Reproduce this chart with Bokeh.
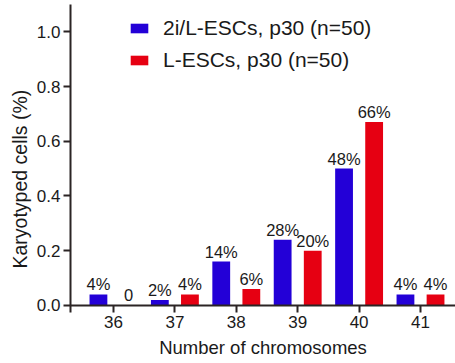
from bokeh.plotting import figure
from bokeh.models import ColumnDataSource, FixedTicker, PrintfTickFormatter, Span, Range1d, Title
from bokeh.embed import file_html
from bokeh.resources import INLINE
from bokeh.core.properties import value

# ---- data ----
chromosomes = [36, 37, 38, 39, 40, 41]
two_i_vals = [0.04, 0.02, 0.16, 0.24, 0.50, 0.04]
l_esc_vals = [0.00, 0.04, 0.06, 0.20, 0.67, 0.04]
two_i_labels = ["4%", "2%", "14%", "28%", "48%", "4%"]
l_esc_labels = ["0", "4%", "6%", "20%", "66%", "4%"]
series_names = ["2i/L-ESCs, p30 (n=50)", "L-ESCs, p30 (n=50)"]
y_ticks = [0.0, 0.2, 0.4, 0.6, 0.8, 1.0]
x_title = "Number of chromosomes"
y_title = "Karyotyped cells (%)"

BLUE = "#2300d7"
RED = "#e60012"
AX = "#2b2424"
FONT = "Liberation Sans"
OFF = 0.245
BW = 0.29

src_b = ColumnDataSource(dict(x=[c - OFF for c in chromosomes], top=two_i_vals, lab=two_i_labels))
src_r = ColumnDataSource(dict(x=[c + OFF for c in chromosomes], top=l_esc_vals, lab=l_esc_labels))

p = figure(width=455, height=363, output_backend="svg", toolbar_location=None,
           x_range=Range1d(35.30, 41.57), y_range=Range1d(-0.026, 1.1),
           min_border_left=70, min_border_right=0, min_border_top=4, min_border_bottom=51)
p.outline_line_color = None
p.xgrid.visible = False
p.ygrid.visible = False
p.background_fill_color = "white"

p.vbar(x="x", top="top", width=BW, source=src_b, color=BLUE, line_color=None, legend_label=series_names[0])
p.vbar(x="x", top="top", width=BW, source=src_r, color=RED, line_color=None, legend_label=series_names[1])

for s in (src_b, src_r):
    p.text(x="x", y="top", text="lab", source=s, text_align="center", text_baseline="alphabetic",
           y_offset=-10, text_font=value(FONT), text_font_size="16.5px", text_color="#1a1a1a")

# x axis line at y=0
p.add_layout(Span(location=0, dimension="width", line_color=AX, line_width=2))

xa = p.xaxis[0]
xa.ticker = FixedTicker(ticks=chromosomes)
xa.axis_line_color = None
xa.major_tick_in = 7
xa.major_tick_out = 0
xa.major_tick_line_color = AX
xa.major_tick_line_width = 2
xa.minor_tick_line_color = None
xa.major_label_standoff = 3
xa.major_label_text_font = FONT
xa.major_label_text_font_size = "17px"
xa.major_label_text_color = "#1a1a1a"
xa.axis_label = x_title
xa.axis_label_text_font = FONT
xa.axis_label_text_font_size = "18.5px"
xa.axis_label_text_font_style = "normal"
xa.axis_label_text_color = "#1a1a1a"
xa.axis_label_standoff = 6

ya = p.yaxis[0]
ya.ticker = FixedTicker(ticks=y_ticks)
ya.formatter = PrintfTickFormatter(format="%.1f")
ya.axis_line_color = AX
ya.axis_line_width = 2
ya.major_tick_in = 0
ya.major_tick_out = 7
ya.major_tick_line_color = AX
ya.major_tick_line_width = 2
ya.minor_tick_line_color = None
ya.major_label_standoff = 3
ya.major_label_text_font = FONT
ya.major_label_text_font_size = "17px"
ya.major_label_text_color = "#1a1a1a"

# y-axis title as a side title, shifted slightly below the frame centre as in the reference
p.add_layout(Title(text=y_title, align="left", offset=44, standoff=6,
                   text_font=FONT, text_font_size="19.5px", text_font_style="normal",
                   text_color="#1a1a1a"), "left")

lg = p.legend[0]
lg.location = (58, 240)
lg.border_line_color = None
lg.background_fill_alpha = 0
lg.padding = 0
lg.margin = 0
lg.glyph_width = 22
lg.glyph_height = 12
lg.label_height = 23
lg.label_standoff = 13
lg.spacing = 8
lg.label_text_font = FONT
lg.label_text_font_size = "21px"
lg.label_text_color = "#1a1a1a"

open("out.html", "w").write(file_html(p, INLINE))
